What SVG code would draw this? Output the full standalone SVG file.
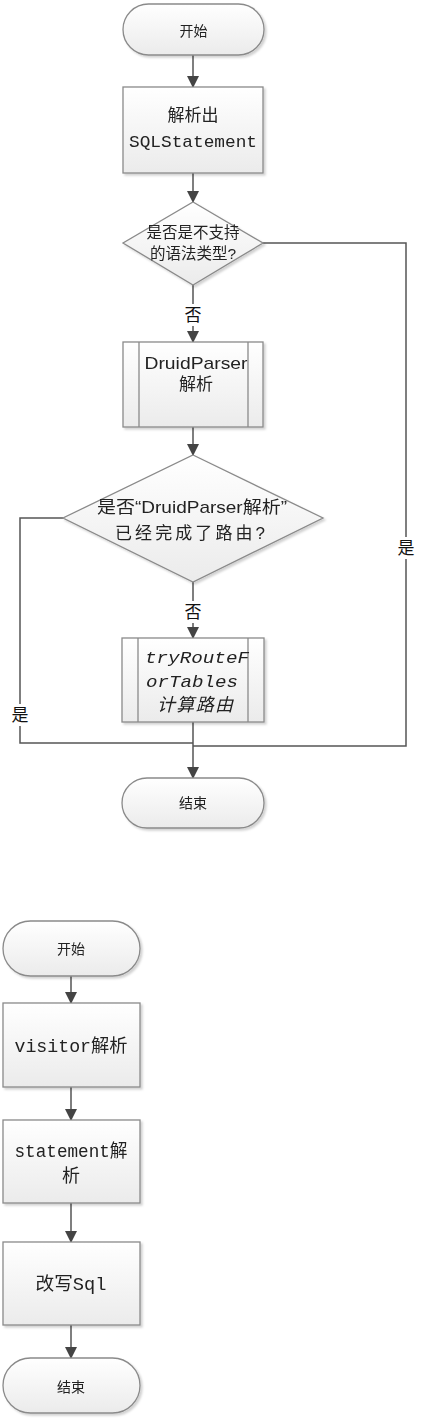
<svg xmlns="http://www.w3.org/2000/svg" width="426" height="1424" viewBox="0 0 426 1424">
<style>
.shape{fill:url(#g);stroke:#8a8a8a;stroke-width:1.3}
.inner{fill:none;stroke:#8a8a8a;stroke-width:1.3}
.line{fill:none;stroke:#555;stroke-width:1.5}
.arr{marker-end:url(#ah)}
text{font-family:"Liberation Sans","Noto Sans CJK SC",sans-serif;fill:#222;text-anchor:middle;dominant-baseline:central}
.mono{font-family:"Liberation Mono","Noto Sans CJK SC",monospace}
.lbl{font-size:17px;fill:#111}
</style>
<defs>
<linearGradient id="g" x1="0" y1="0" x2="0" y2="1">
<stop offset="0" stop-color="#ffffff"/>
<stop offset="1" stop-color="#ebebeb"/>
</linearGradient>
<filter id="sh" x="-10%" y="-10%" width="130%" height="130%">
<feDropShadow dx="2" dy="2" stdDeviation="1.2" flood-color="#000" flood-opacity="0.18"/>
</filter>
<marker id="ah" markerWidth="12" markerHeight="12" refX="11" refY="6" orient="auto" markerUnits="userSpaceOnUse">
<path d="M0,0 L12,6 L0,12 z" fill="#444"/>
</marker>
</defs>
<rect width="426" height="1424" fill="#fff"/>

<g id="connectors">
<path class="line arr" d="M193,55 V87"/>
<path class="line arr" d="M193,173 V202"/>
<path class="line arr" d="M193,285 V342"/>
<path class="line" d="M263,243 H406 V746 H193"/>
<path class="line arr" d="M193,427 V455"/>
<path class="line arr" d="M193,582 V638"/>
<path class="line" d="M63,518 H20 V743 H193"/>
<path class="line arr" d="M193,722 V778"/>
<path class="line arr" d="M71,976 V1003"/>
<path class="line arr" d="M71,1087 V1120"/>
<path class="line arr" d="M71,1203 V1242"/>
<path class="line arr" d="M71,1325 V1358"/>
<rect x="184" y="304" width="18" height="22" fill="#fff"/>
<text class="lbl" x="193" y="315">否</text>
<rect x="184" y="601" width="18" height="22" fill="#fff"/>
<text class="lbl" x="193" y="612">否</text>
<rect x="397" y="537" width="18" height="22" fill="#fff"/>
<text class="lbl" x="406" y="548">是</text>
<rect x="11" y="704" width="18" height="22" fill="#fff"/>
<text class="lbl" x="20" y="715">是</text>
</g>

<g id="start1" filter="url(#sh)">
<rect class="shape" x="123" y="4" width="141" height="51" rx="25.5"/>
<text x="193.5" y="31" font-size="14">开始</text>
</g>
<g id="parse" filter="url(#sh)">
<rect class="shape" x="123" y="87" width="140" height="86"/>
<text x="193" y="115" font-size="17">解析出</text>
<text class="mono" x="193" y="142" font-size="17" textLength="128" lengthAdjust="spacingAndGlyphs">SQLStatement</text>
</g>
<g id="decision1" filter="url(#sh)">
<polygon class="shape" points="193,202 263,243 193,285 123,243"/>
<text x="193" y="232" font-size="15.5">是否是不支持</text>
<text x="193" y="253" font-size="15.5">的语法类型?</text>
</g>
<g id="druid" filter="url(#sh)">
<rect class="shape" x="123" y="342" width="140" height="85"/>
<path class="inner" d="M139,342 V427 M248,342 V427"/>
<text x="196" y="363" font-size="17" textLength="103" lengthAdjust="spacingAndGlyphs">DruidParser</text>
<text x="196" y="384" font-size="17">解析</text>
</g>
<g id="decision2" filter="url(#sh)">
<polygon class="shape" points="193,455 323,518 193,582 63,518"/>
<text x="192" y="507" font-size="17" textLength="190" lengthAdjust="spacingAndGlyphs">是否“DruidParser解析”</text>
<text x="190" y="533" font-size="17" textLength="150" lengthAdjust="spacing">已经完成了路由?</text>
</g>
<g id="tryRoute" filter="url(#sh)">
<rect class="shape" x="122" y="638" width="142" height="84"/>
<path class="inner" d="M138,638 V722 M248,638 V722"/>
<text class="mono" x="197" y="658" font-size="17" font-style="italic" textLength="104" lengthAdjust="spacingAndGlyphs">tryRouteF</text>
<text class="mono" x="192" y="682" font-size="17" font-style="italic" textLength="92" lengthAdjust="spacingAndGlyphs">orTables</text>
<text x="195" y="705" font-size="18" font-style="italic" textLength="76" lengthAdjust="spacing">计算路由</text>
</g>
<g id="end1" filter="url(#sh)">
<rect class="shape" x="122" y="778" width="142" height="50" rx="25"/>
<text x="193" y="803" font-size="14">结束</text>
</g>

<g id="start2" filter="url(#sh)">
<rect class="shape" x="3" y="921" width="137" height="55" rx="27.5"/>
<text x="71" y="949" font-size="14">开始</text>
</g>
<g id="visitor" filter="url(#sh)">
<rect class="shape" x="3" y="1003" width="137" height="84"/>
<text class="mono" x="71" y="1047" font-size="18" textLength="113" lengthAdjust="spacingAndGlyphs">visitor解析</text>
</g>
<g id="statement" filter="url(#sh)">
<rect class="shape" x="3" y="1120" width="137" height="83"/>
<text class="mono" x="71" y="1152" font-size="18" textLength="113" lengthAdjust="spacingAndGlyphs">statement解</text>
<text x="71" y="1176" font-size="18">析</text>
</g>
<g id="rewrite" filter="url(#sh)">
<rect class="shape" x="3" y="1242" width="137" height="83"/>
<text class="mono" x="71" y="1285" font-size="18" textLength="71" lengthAdjust="spacingAndGlyphs">改写Sql</text>
</g>
<g id="end2" filter="url(#sh)">
<rect class="shape" x="3" y="1358" width="137" height="55" rx="27.5"/>
<text x="71" y="1387" font-size="14">结束</text>
</g>
</svg>
